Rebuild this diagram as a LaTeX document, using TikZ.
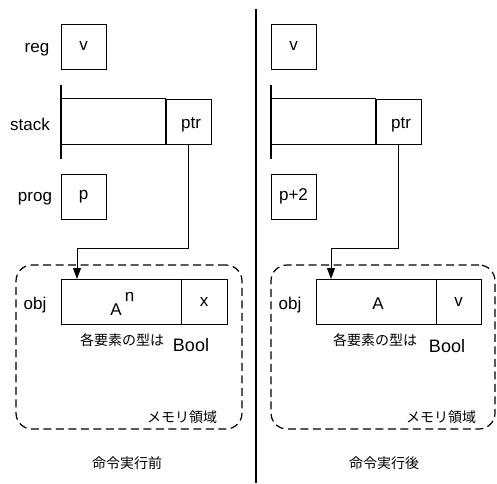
\documentclass[tikz,border=0pt]{standalone}
\usepackage{fontspec}
\setmainfont{Liberation Sans}
\newfontfamily\jp{Noto Sans CJK JP}
\usetikzlibrary{arrows.meta}
\tikzset{
  txt/.style={inner sep=0pt, font=\fontsize{17}{20}\selectfont},
  jtxt/.style={inner sep=0pt, font=\fontsize{14}{16}\selectfont\jp},
  cell/.style={draw, line width=1pt, inner sep=0pt, minimum width=45pt, minimum height=45pt, txt},
  field/.style={inner sep=0pt, minimum width=105pt, minimum height=45pt},
  thin/.style={line width=1pt},
  thick/.style={line width=1.8pt},
  memory/.style={draw, dashed, dash pattern=on 8pt off 4.5pt, line width=1.2pt, rounded corners=16pt, inner sep=0pt},
  conn/.style={line width=1pt, -{Triangle[length=11pt,width=8pt]}},
}
\begin{document}
\begin{tikzpicture}[x=1pt, y=-1pt]
\useasboundingbox (0,0) rectangle (497,483);

% separator between the two states
\coordinate (sepT) at (256,9);
\coordinate (sepB) at (256,483);
\draw[line width=1.3pt] (sepT) -- (sepB);

% ===== before execution =====
\node[txt] (regLab) at (37,50) {reg};
\node[cell] (regL) at (83.5,46.5) {v};

\node[txt] (stackLab) at (30,124) {stack};
\node[field] (stkL) at (113.5,121.5) {};
\node[cell] (ptrL) at (188.5,121.5) {};
\node[txt] (ptrTL) at (191,125) {ptr};
\draw[thin] (stkL.north west) -- (stkL.north east);
\draw[thin] (stkL.south west) -- (stkL.south east);
\coordinate (barTL) at (61,85);
\coordinate (barBL) at (61,159);
\draw[thick] (barTL) -- (barBL);
\draw[thick] (stkL.north east) -- (stkL.south east);

\node[txt] (progLab) at (35,199) {prog};
\node[cell] (progL) at (83.5,196.5) {p};

\node[memory, minimum width=226pt, minimum height=164pt] (memL) at (129,347) {};
\node[txt] (objLab) at (35,305) {obj};
\node[draw, thin, inner sep=0pt, minimum width=120pt, minimum height=45pt] (arrL) at (121,301.5) {};
\node[cell, minimum width=46pt] (valL) at (204,301.5) {x};
\draw[thick] (arrL.north east) -- (arrL.south east);
\node[txt] (aL) at (116,310) {A};
\node[txt] (supL) at (129.5,297) {n};
\node[jtxt] (typeL) at (122,340) {各要素の型は};
\node[txt, font=\fontsize{18}{20}\selectfont] (boolL) at (191,345) {Bool};
\node[jtxt] (memTL) at (182,417) {メモリ領域};
\node[jtxt] (capL) at (127,463) {命令実行前};

\coordinate (elbowL) at (189,248);
\coordinate (tipL) at (77,279);
\draw[conn] (ptrL.south) -- (ptrL.south |- elbowL) -| (tipL);

% ===== after execution =====
\node[cell] (regR) at (293.5,46.5) {v};

\node[field] (stkR) at (323.5,121.5) {};
\node[cell] (ptrR) at (398.5,121.5) {};
\node[txt] (ptrTR) at (401,125) {ptr};
\draw[thin] (stkR.north west) -- (stkR.north east);
\draw[thin] (stkR.south west) -- (stkR.south east);
\coordinate (barTR) at (271,85);
\coordinate (barBR) at (271,159);
\draw[thick] (barTR) -- (barBR);
\draw[thick] (stkR.north east) -- (stkR.south east);

\node[cell] (progR) at (293.5,196.5) {p+2};

\node[memory, minimum width=224pt, minimum height=164pt] (memR) at (383,347) {};
\node[txt] (objLabR) at (290,305) {obj};
\node[draw, thin, inner sep=0pt, minimum width=120pt, minimum height=45pt] (arrR) at (376,301.5) {};
\node[cell] (valR) at (458.5,301.5) {v};
\draw[thick] (arrR.north east) -- (arrR.south east);
\node[txt] (aR) at (378,304) {A};
\node[jtxt] (typeR) at (375,340) {各要素の型は};
\node[txt, font=\fontsize{18}{20}\selectfont] (boolR) at (447,346) {Bool};
\node[jtxt] (memTR) at (441,417) {メモリ領域};
\node[jtxt] (capR) at (384,463) {命令実行後};

\coordinate (elbowR) at (399,248);
\coordinate (tipR) at (331,279);
\draw[conn] (ptrR.south) -- (ptrR.south |- elbowR) -| (tipR);
\end{tikzpicture}
\end{document}
